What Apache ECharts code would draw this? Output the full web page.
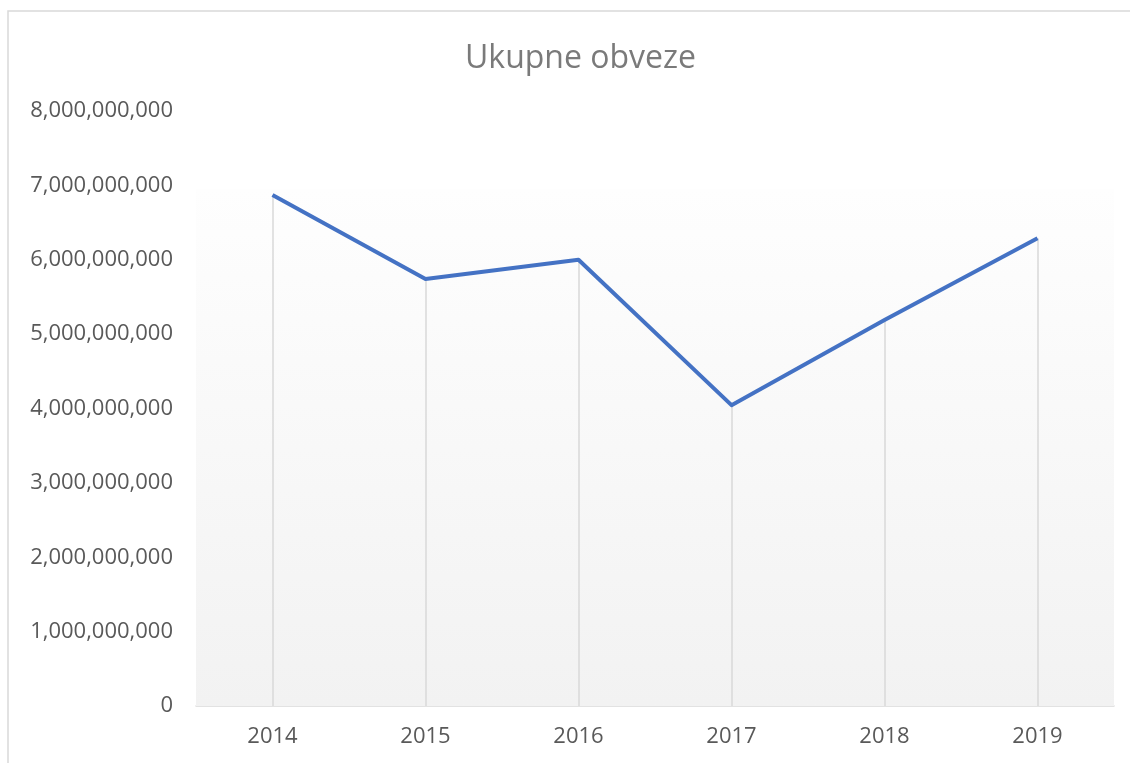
<!DOCTYPE html>
<html>
<head>
<meta charset="utf-8">
<script src="https://cdn.jsdelivr.net/npm/echarts@6/dist/echarts.min.js"></script>
<style>
  html, body { margin: 0; padding: 0; background: #fff; }
  #main { width: 1130px; height: 763px; }
</style>
</head>
<body>
<div id="main"></div>
<script>
// podaci
var years = ['2014', '2015', '2016', '2017', '2018', '2019'];
var obveze = [6870000000, 5740000000, 6000000000, 4045000000, 5190000000, 6290000000];
var yMin = 0, yMax = 8000000000, yStep = 1000000000;

var chart = echarts.init(document.getElementById('main'));

// okomite linije od tocke do osi
var dropLines = obveze.map(function (v, i) {
    return [{ xAxis: i, yAxis: 0 }, { xAxis: i, yAxis: v }];
});

var option = {
    animation: false,
    textStyle: { fontFamily: 'Open Sans' },
    title: {
        text: 'Ukupne obveze',
        left: 460,
        top: 38,
        textStyle: { fontSize: 32, fontWeight: 'normal', color: '#7a7a7a', fontFamily: 'Open Sans' }
    },
    graphic: [{
        type: 'rect',
        shape: { x: 8, y: 11, width: 1140, height: 800 },
        style: { fill: 'none', stroke: '#d9d9d9', lineWidth: 1.5 },
        silent: true
    }],
    grid: { left: 196, right: 16, top: 111, bottom: 57 },
    xAxis: {
        type: 'category',
        data: years,
        boundaryGap: true,
        axisLine: { lineStyle: { color: '#d9d9d9', width: 1.5 } },
        axisTick: { show: false },
        axisLabel: { color: '#595959', fontSize: 22, margin: 20 }
    },
    yAxis: {
        type: 'value',
        min: yMin,
        max: yMax,
        interval: yStep,
        axisLine: { show: false },
        axisTick: { show: false },
        splitLine: { show: false },
        axisLabel: {
            color: '#595959',
            fontSize: 22,
            margin: 23,
            formatter: function (v) { return v.toLocaleString('en-US'); }
        }
    },
    series: [{
        name: 'Ukupne obveze',
        type: 'line',
        data: obveze,
        symbol: 'none',
        lineStyle: { color: '#4472c4', width: 4, join: 'round' },
        z: 5,
        markArea: {
            silent: true,
            itemStyle: {
                color: {
                    type: 'linear', x: 0, y: 0, x2: 0, y2: 1,
                    colorStops: [{ offset: 0, color: '#fefefe' }, { offset: 1, color: '#f2f2f2' }]
                }
            },
            data: [[{ yAxis: 0 }, { yAxis: 6950000000 }]]
        },
        markLine: {
            silent: true,
            symbol: 'none',
            label: { show: false },
            lineStyle: { color: '#d9d9d9', width: 1.5, type: 'solid' },
            data: dropLines
        }
    }]
};

chart.setOption(option);
</script>
</body>
</html>
